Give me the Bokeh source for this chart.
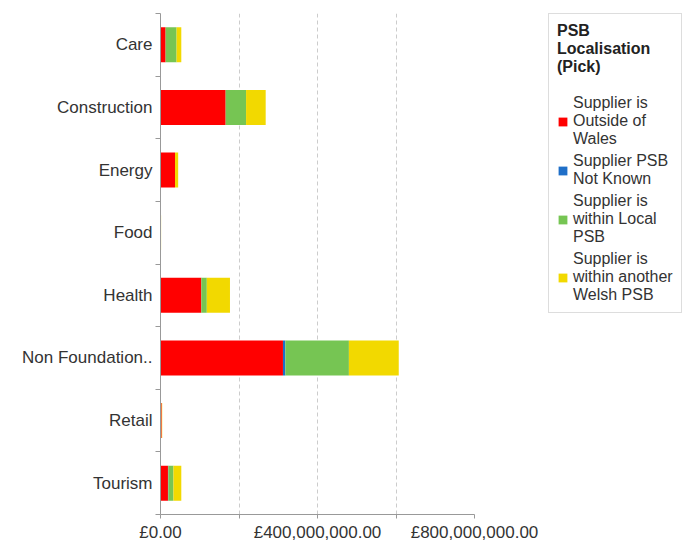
from bokeh.plotting import figure
from bokeh.models import ColumnDataSource, Range1d, FixedTicker, Legend, LegendItem
from bokeh.embed import file_html
from bokeh.resources import INLINE

categories = ["Care", "Construction", "Energy", "Food", "Health",
              "Non Foundation..", "Retail", "Tourism"]
outside_wales = [13e6, 166e6, 37e6, 0.6e6, 104e6, 312e6, 3e6, 19e6]
psb_not_known = [0.0, 0.0, 0.0, 0.0, 0.0, 6e6, 0.0, 1e6]
within_local = [28e6, 52e6, 0.0, 0.3e6, 14e6, 162e6, 0.3e6, 13e6]
within_another = [12e6, 50e6, 8e6, 0.6e6, 59e6, 127e6, 1e6, 20e6]

series_keys = ["outside", "notknown", "local", "another"]
series_labels = ["Supplier is\nOutside of\nWales",
                 "Supplier PSB\nNot Known",
                 "Supplier is\nwithin Local\nPSB",
                 "Supplier is\nwithin another\nWelsh PSB"]
series_colors = ["#ff0000", "#1f6fc8", "#76c553", "#f2d900"]

x_ticks = [0, 200000000, 400000000, 600000000, 800000000]
x_tick_labels = ["£0.00", "", "£400,000,000.00", "", "£800,000,000.00"]
grid_ticks = [200000000, 400000000, 600000000]

ypos = list(range(len(categories)))
source = ColumnDataSource(dict(y=ypos, outside=outside_wales, notknown=psb_not_known,
                               local=within_local, another=within_another))

FONT = "Liberation Sans"

p = figure(frame_width=314, frame_height=501, output_backend="svg", toolbar_location=None,
           x_range=Range1d(0, 800000000), y_range=Range1d(len(categories) - 0.5, -0.5),
           min_border_left=160, min_border_top=13, min_border_bottom=8, min_border_right=0)
p.outline_line_color = None

renderers = p.hbar_stack(series_keys, y="y", height=0.56, source=source,
                         color=series_colors, line_color=None)

# axes
xa = p.xaxis[0]
xa.ticker = FixedTicker(ticks=x_ticks)
xa.major_label_overrides = {t: l for t, l in zip(x_ticks, x_tick_labels)}
xa.major_tick_in = 0
xa.major_tick_out = 4
xa.major_label_standoff = 4
xa.minor_tick_line_color = None
xa.axis_line_color = "#999999"
xa.major_tick_line_color = "#999999"
xa.major_label_text_font = FONT
xa.major_label_text_font_size = "17px"
xa.major_label_text_color = "#333333"

ya = p.yaxis[0]
ya.ticker = FixedTicker(ticks=ypos, minor_ticks=[i - 0.5 for i in range(len(categories) + 1)])
ya.major_label_overrides = {i: c for i, c in enumerate(categories)}
ya.major_tick_line_color = None
ya.major_tick_in = 0
ya.major_tick_out = 5
ya.minor_tick_in = 0
ya.minor_tick_out = 5
ya.minor_tick_line_color = "#999999"
ya.axis_line_color = "#999999"
ya.major_label_text_font = FONT
ya.major_label_text_font_size = "17px"
ya.major_label_text_color = "#333333"
ya.major_label_standoff = 3

p.ygrid.grid_line_color = None
p.xgrid.ticker = FixedTicker(ticks=grid_ticks)
p.xgrid.grid_line_color = "#cccccc"
p.xgrid.grid_line_dash = "4 3"

items = [LegendItem(label=lab, renderers=[r]) for lab, r in zip(series_labels, renderers)]
legend = Legend(items=items, title="PSB\nLocalisation\n(Pick)")
legend.title_text_font = FONT
legend.title_text_font_style = "bold"
legend.title_text_font_size = "16px"
legend.title_text_color = "#222222"
legend.title_text_align = "center"
legend.label_text_font = FONT
legend.label_text_font_size = "16px"
legend.label_text_color = "#333333"
legend.glyph_width = 11
legend.glyph_height = 11
legend.border_line_color = "#bbbbbb"
legend.padding = 8
legend.spacing = 4
legend.title_standoff = 18
legend.margin = 0
legend.location = (74, 201)
p.add_layout(legend, "right")

open("out.html", "w").write(file_html(p, INLINE))
